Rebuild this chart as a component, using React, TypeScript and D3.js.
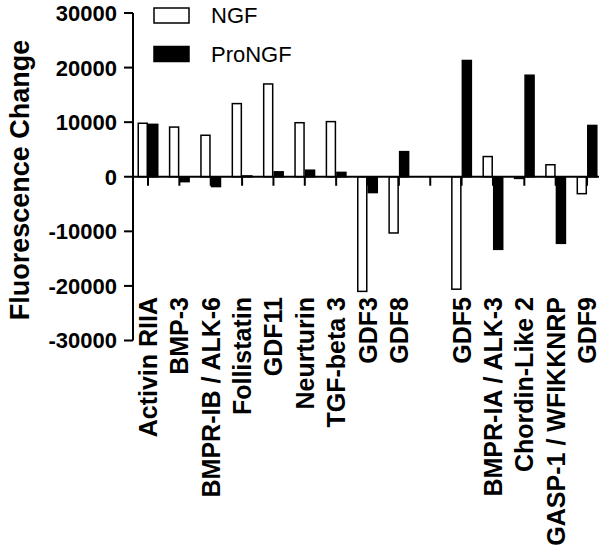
import React from "react";
import * as d3 from "d3";

const categories = [
  "Activin RIIA",
  "BMP-3",
  "BMPR-IB / ALK-6",
  "Follistatin",
  "GDF11",
  "Neurturin",
  "TGF-beta 3",
  "GDF3",
  "GDF8",
  "",
  "GDF5",
  "BMPR-IA / ALK-3",
  "Chordin-Like 2",
  "GASP-1 / WFIKKNRP",
  "GDF9",
];

const ngfValues: (number | null)[] = [
  9800, 9100, 7600, 13400, 17000, 9900, 10100, -21000, -10300, null, -20600, 3700, -300, 2200, -3100,
];
const proNgfValues: (number | null)[] = [
  9600, -900, -1800, 150, 900, 1200, 800, -2900, 4600, null, 21300, -13300, 18600, -12200, 9400,
];

const seriesNames = ["NGF", "ProNGF"];
const yTicks = [30000, 20000, 10000, 0, -10000, -20000, -30000];
const yTitle = "Fluorescence Change";

const W = 600;
const H = 547;
const FONT = "'Liberation Sans', Arial, Helvetica, sans-serif";

export default function App() {
  const y = d3.scaleLinear().domain([-30000, 30000]).range([340.5, 13]);
  const step = 31.36;
  const x = d3
    .scaleBand<string>()
    .domain(categories.map((_, i) => String(i)))
    .range([148 - step / 2, 148 + step * 14 + step / 2])
    .paddingInner(0.33)
    .paddingOuter(0.165);
  const xs = d3
    .scaleBand<string>()
    .domain(seriesNames)
    .range([0, x.bandwidth()])
    .padding(0);

  const axisX = 133;
  const zeroY = y(0);

  const bar = (v: number | null, i: number, s: string) => {
    if (v === null) return null;
    const x0 = (x(String(i)) as number) + (xs(s) as number);
    const top = Math.min(y(v), zeroY);
    const h = Math.abs(y(v) - zeroY);
    const filled = s === "ProNGF";
    return (
      <rect
        key={s + i}
        x={x0 + 0.75}
        y={top}
        width={xs.bandwidth() - 1.5}
        height={Math.max(h, 0.5)}
        fill={filled ? "#000" : "#fff"}
        stroke="#000"
        strokeWidth={1.5}
      />
    );
  };

  return (
    <svg
      width={W}
      height={H}
      style={{ position: "absolute", left: 0, top: 0, background: "#fff" }}
      fontFamily={FONT}
    >
      <rect x={0} y={0} width={W} height={H} fill="#fff" />
      {/* bars */}
      {ngfValues.map((v, i) => bar(v, i, "NGF"))}
      {proNgfValues.map((v, i) => bar(v, i, "ProNGF"))}

      {/* x axis */}
      <line x1={axisX} x2={599} y1={zeroY} y2={zeroY} stroke="#000" strokeWidth={2} />
      {categories.map((c, i) => {
        const cx = (x(String(i)) as number) + x.bandwidth() / 2;
        return (
          <g key={"xt" + i}>
            <line x1={cx} x2={cx} y1={zeroY} y2={zeroY + 9} stroke="#000" strokeWidth={2} />
            {c && (
              <text
                transform={`translate(${cx + 9},297) rotate(-90)`}
                textAnchor="end"
                fontSize={25}
                fontWeight="bold"
                fill="#000"
              >
                {c}
              </text>
            )}
          </g>
        );
      })}

      {/* y axis */}
      <line x1={axisX} x2={axisX} y1={y(30000)} y2={y(-30000)} stroke="#000" strokeWidth={2} />
      {yTicks.map((t) => (
        <g key={"yt" + t}>
          <line x1={axisX - 9} x2={axisX} y1={y(t)} y2={y(t)} stroke="#000" strokeWidth={2} />
          <text
            x={117}
            y={y(t)}
            dy="0.36em"
            textAnchor="end"
            fontSize={22}
            fontWeight="bold"
            fill="#000"
          >
            {t}
          </text>
        </g>
      ))}
      <text
        transform={`translate(29,180) rotate(-90)`}
        textAnchor="middle"
        fontSize={27}
        fontWeight="bold"
        fill="#000"
      >
        {yTitle}
      </text>

      {/* legend */}
      {seriesNames.map((s, i) => (
        <g key={"lg" + s}>
          <rect
            x={154}
            y={8 + i * 38.5}
            width={35}
            height={15}
            fill={s === "ProNGF" ? "#000" : "#fff"}
            stroke="#000"
            strokeWidth={1.5}
          />
          <text x={211} y={23 + i * 38.5} fontSize={22} fill="#000">
            {s}
          </text>
        </g>
      ))}
    </svg>
  );
}
